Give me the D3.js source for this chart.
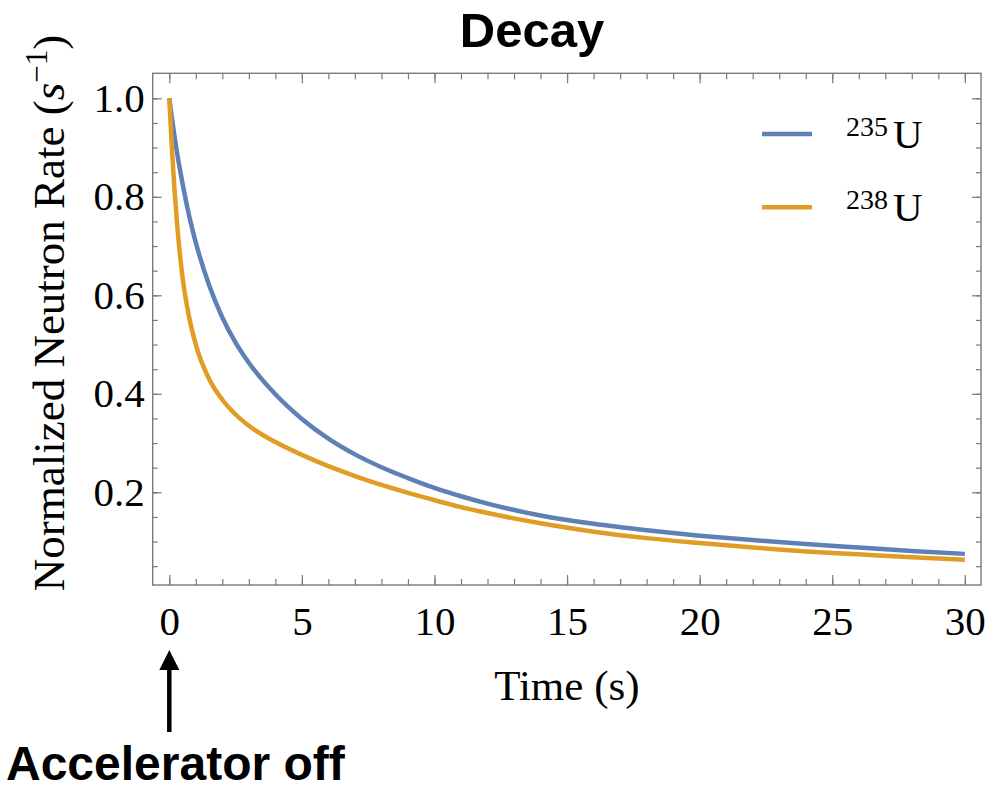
<!DOCTYPE html>
<html>
<head>
<meta charset="utf-8">
<script src="https://cdn.jsdelivr.net/npm/d3@7"></script>
<style>
  body { margin: 0; background: #fff; }
  svg { display: block; }
</style>
</head>
<body>
<script>
// Time after the accelerator is switched off (s)
var times = [0, 0.1, 0.2, 0.3, 0.5, 0.75, 1, 1.5, 2, 2.5, 3, 4, 5, 6, 7, 8, 9, 10, 11, 12, 14, 16, 18, 20, 22, 24, 26, 28, 30];

// Normalized neutron rate
var u235 = [1.0, 0.959, 0.922, 0.887, 0.827, 0.761, 0.707, 0.621, 0.555, 0.504, 0.463, 0.399, 0.349, 0.309, 0.277, 0.251, 0.229, 0.209, 0.192, 0.177, 0.153, 0.136, 0.123, 0.112, 0.103, 0.095, 0.088, 0.081, 0.075];
var u238 = [1.0, 0.896, 0.811, 0.741, 0.636, 0.555, 0.500, 0.430, 0.388, 0.358, 0.335, 0.302, 0.276, 0.253, 0.233, 0.215, 0.199, 0.184, 0.170, 0.158, 0.137, 0.120, 0.107, 0.097, 0.088, 0.080, 0.074, 0.068, 0.063];

var seriesNames = ["235", "238"];
var seriesColors = ["#5e81b5", "#e19c24"];

var xMajor = [0, 5, 10, 15, 20, 25, 30];
var xMinor = d3.range(0, 31, 1);
var yMajor = [0.2, 0.4, 0.6, 0.8, 1.0];
var yMinor = d3.range(0.05, 1.001, 0.05);

var width = 1000, height = 790;
var plotLeft = 152.7, plotRight = 981, plotTop = 73.3, plotBottom = 585;

var svg = d3.select("body").append("svg").attr("width", width).attr("height", height);

var x = d3.scaleLinear().domain([-0.626, 30.61]).range([plotLeft, plotRight]);
var y = d3.scaleLinear().domain([0.0118, 1.0508]).range([plotBottom, plotTop]);

var serif = "'Liberation Serif', 'Times New Roman', serif";
var sans = "'Liberation Sans', Arial, sans-serif";
var frameColor = "#7a7a7a";

function styleAxis(g) {
  g.select(".domain").remove();
  g.selectAll(".tick line").attr("stroke", frameColor).attr("stroke-width", 1.2);
  g.selectAll("text").attr("font-family", serif).attr("font-size", 41).attr("fill", "#000");
}

// minor ticks on all four sides
svg.append("g").attr("transform", "translate(0," + plotBottom + ")")
  .call(d3.axisBottom(x).tickValues(xMinor).tickSizeInner(-6).tickSizeOuter(0).tickFormat(""))
  .call(styleAxis);
svg.append("g").attr("transform", "translate(0," + plotTop + ")")
  .call(d3.axisTop(x).tickValues(xMinor).tickSizeInner(-6).tickSizeOuter(0).tickFormat(""))
  .call(styleAxis);
svg.append("g").attr("transform", "translate(" + plotLeft + ",0)")
  .call(d3.axisLeft(y).tickValues(yMinor).tickSizeInner(-5).tickSizeOuter(0).tickFormat(""))
  .call(styleAxis);
svg.append("g").attr("transform", "translate(" + plotRight + ",0)")
  .call(d3.axisRight(y).tickValues(yMinor).tickSizeInner(-5).tickSizeOuter(0).tickFormat(""))
  .call(styleAxis);

// major ticks, labels on bottom and left only
svg.append("g").attr("transform", "translate(0," + plotBottom + ")")
  .call(d3.axisBottom(x).tickValues(xMajor).tickSizeInner(-10).tickSizeOuter(0).tickPadding(21).tickFormat(d3.format("d")))
  .call(styleAxis);
svg.append("g").attr("transform", "translate(0," + plotTop + ")")
  .call(d3.axisTop(x).tickValues(xMajor).tickSizeInner(-10).tickSizeOuter(0).tickFormat(""))
  .call(styleAxis);
svg.append("g").attr("transform", "translate(" + plotLeft + ",0)")
  .call(d3.axisLeft(y).tickValues(yMajor).tickSizeInner(-9).tickSizeOuter(0).tickPadding(8).tickFormat(d3.format(".1f")))
  .call(styleAxis);
svg.append("g").attr("transform", "translate(" + plotRight + ",0)")
  .call(d3.axisRight(y).tickValues(yMajor).tickSizeInner(-9).tickSizeOuter(0).tickFormat(""))
  .call(styleAxis);

// frame
svg.append("rect")
  .attr("x", plotLeft).attr("y", plotTop)
  .attr("width", plotRight - plotLeft).attr("height", plotBottom - plotTop)
  .attr("fill", "none").attr("stroke", frameColor).attr("stroke-width", 1.4);

// curves
var line = d3.line()
  .x(function(d) { return x(d[0]); })
  .y(function(d) { return y(d[1]); })
  .curve(d3.curveMonotoneX);

[u235, u238].forEach(function(vals, i) {
  svg.append("path")
    .attr("d", line(d3.zip(times, vals)))
    .attr("fill", "none")
    .attr("stroke", seriesColors[i])
    .attr("stroke-width", 4.5)
    .attr("stroke-linecap", "butt");
});

// legend
seriesNames.forEach(function(name, i) {
  var ly = 134 + i * 73.3;
  svg.append("line")
    .attr("x1", 762).attr("x2", 812).attr("y1", ly).attr("y2", ly)
    .attr("stroke", seriesColors[i]).attr("stroke-width", 4.5);
  var t = svg.append("text")
    .attr("x", 846).attr("y", ly + 14)
    .attr("font-family", serif).attr("font-size", 41);
  t.append("tspan").attr("font-size", 28).attr("dy", -12).text(name);
  t.append("tspan").attr("dy", 12).attr("dx", 5).text("U");
});

// title
svg.append("text")
  .attr("x", 532).attr("y", 47)
  .attr("text-anchor", "middle")
  .attr("font-family", sans).attr("font-weight", "bold").attr("font-size", 49)
  .text("Decay");

// axis titles
svg.append("text")
  .attr("x", (plotLeft + plotRight) / 2).attr("y", 700)
  .attr("text-anchor", "middle")
  .attr("font-family", serif).attr("font-size", 43)
  .text("Time (s)");

var yl = svg.append("text")
  .attr("transform", "translate(64,313) rotate(-90)")
  .attr("text-anchor", "middle")
  .attr("font-family", serif).attr("font-size", 45);
yl.append("tspan").text("Normalized Neutron Rate (");
yl.append("tspan").attr("font-style", "italic").text("s");
yl.append("tspan").attr("font-size", 31).attr("dy", -17).text("\u22121");
yl.append("tspan").attr("dy", 17).text(")");

// accelerator off arrow
var ax = x(0);
svg.append("line")
  .attr("x1", ax).attr("x2", ax).attr("y1", 668).attr("y2", 732)
  .attr("stroke", "#000").attr("stroke-width", 4.5);
svg.append("path")
  .attr("d", "M" + ax + ",650 L" + (ax - 10) + ",670 L" + (ax + 10) + ",670 Z")
  .attr("fill", "#000");

svg.append("text")
  .attr("x", 6).attr("y", 780)
  .attr("font-family", sans).attr("font-weight", "bold").attr("font-size", 48)
  .text("Accelerator off");
</script>
</body>
</html>
